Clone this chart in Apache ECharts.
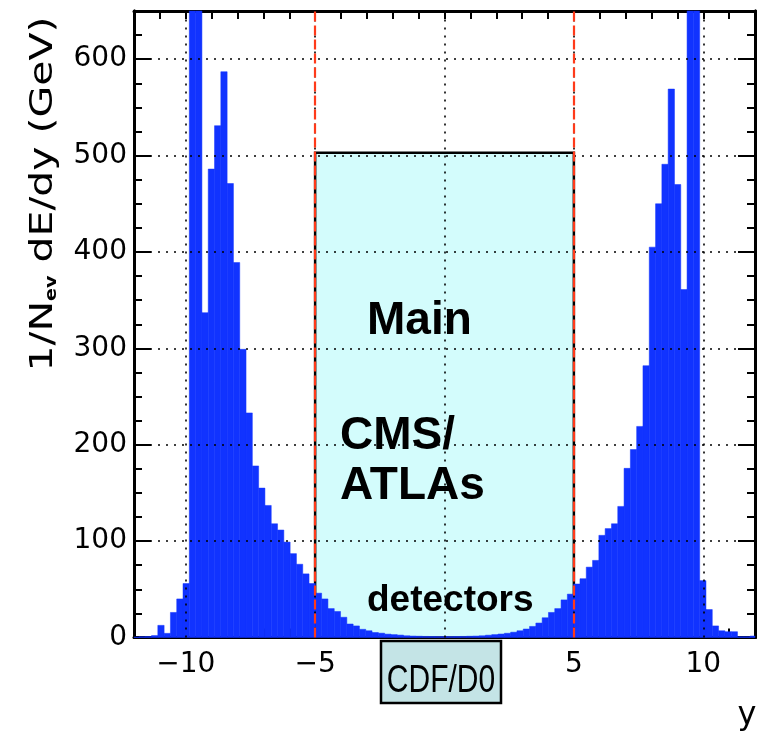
<!DOCTYPE html>
<html>
<head>
<meta charset="utf-8">
<script src="https://cdn.jsdelivr.net/npm/echarts@6/dist/echarts.min.js"></script>
<style>html,body{margin:0;padding:0;background:#fff;}#c{width:758px;height:734px;}</style>
</head>
<body>
<div id="c"></div>
<script>
// ---- data ----
const binWidth = 0.2435;           // histogram bin width in y
const firstBinIndex = -49;         // bins centred at k*binWidth, k = -49..49
const values = [
  0.5, 0.8, 1, 2, 12.6, 4.3, 26, 40, 56,           // k -49..-41
  760, 720,                                          // k -40,-39 (off scale)
  337, 486, 531, 587, 471, 389, 299, 233, 178, 155,  // k -38..-29
  137, 118, 111.5, 99, 87, 76, 66, 56,               // k -28..-21
  46, 40, 30, 27, 21, 14, 12, 8.5, 7, 5.2,           // k -20..-11
  4.5, 3.5, 3, 2.5, 1.8, 1.5, 1.3, 1.1, 1, 0.9,      // k -10..-1
  0.9,                                               // k 0
  0.9, 1, 1.1, 1.3, 1.5, 1.8, 2.4, 3, 3.6, 4.4,      // k 1..10
  5.5, 7, 8.8, 11.5, 15, 20.5, 26, 30, 39, 45,       // k 11..20
  55.5, 61, 73, 80, 106, 113, 118, 136,              // k 21..28
  175.5, 195, 219, 282, 405, 450, 491, 569, 470, 361,// k 29..38
  740, 760,                                          // k 39,40 (off scale)
  59, 29, 12, 7, 6, 6, 0.8, 0.8, 1.5                 // k 41..49
];
const boxRange = [-5, 5];      // main detectors acceptance
const boxHeight = 503;
const gridXValues = [-10, -5, 0, 5, 10];
const gridYValues = [100, 200, 300, 400, 500, 600];
const redLineX = [-5, 5];
const xLabelValues = [-10, -5, 0, 5, 10];

// ---- build ----
const binData = values.map((v, i) => {
  const c = (firstBinIndex + i) * binWidth;
  return [c - binWidth / 2, c + binWidth / 2, v];
});

function rectItem(params, api, fill, stroke, lw) {
  const p0 = api.coord([api.value(0), api.value(2)]);
  const p1 = api.coord([api.value(1), 0]);
  const cs = params.coordSys;
  const r = echarts.graphic.clipRectByRect(
    {x: p0[0], y: p0[1], width: p1[0] - p0[0], height: p1[1] - p0[1]},
    {x: cs.x, y: cs.y, width: cs.width, height: cs.height});
  if (!r) return null;
  return {type: 'rect', shape: r, style: {fill: fill, stroke: stroke, lineWidth: lw}};
}

const fmt = v => (v < 0 ? '\u2212' + Math.abs(v) : String(v));
const axisCommon = {
  type: 'value', min: -12, max: 12, interval: 1,
  axisLine: {onZero: false, lineStyle: {color: '#000', width: 3}},
  splitLine: {show: false}
};
const yCommon = {
  type: 'value', min: 0, max: 650,
  axisLine: {onZero: false, lineStyle: {color: '#000', width: 3}},
  splitLine: {show: false}
};

const chart = echarts.init(document.getElementById('c'), null, {renderer: 'canvas'});
chart.setOption({
  animation: false,
  backgroundColor: '#fff',
  grid: {left: 134, right: 1, top: 11, bottom: 96.5, containLabel: false},
  xAxis: [
    Object.assign({}, axisCommon, {
      position: 'bottom',
      axisTick: {inside: true, length: 9, lineStyle: {color: '#000', width: 2}},
      axisLabel: {
        formatter: v => (xLabelValues.indexOf(v) >= 0 ? fmt(v) : ''),
        color: '#000', fontFamily: 'DejaVu Sans', fontSize: 28, margin: 13,
        showMinLabel: true, showMaxLabel: true
      }
    }),
    Object.assign({}, axisCommon, {
      position: 'top',
      axisTick: {inside: true, length: 8, lineStyle: {color: '#000', width: 2}},
      axisLabel: {show: false}
    })
  ],
  yAxis: [
    Object.assign({}, yCommon, {
      position: 'left', interval: 100,
      axisTick: {inside: true, length: 17, lineStyle: {color: '#000', width: 2}},
      axisLabel: {formatter: v => (v <= 600 ? String(v) : ''), color: '#000',
        fontFamily: 'DejaVu Sans', fontSize: 28, margin: 7}
    }),
    Object.assign({}, yCommon, {
      position: 'left', interval: 25,
      axisTick: {inside: true, length: 8, lineStyle: {color: '#000', width: 2}},
      axisLabel: {show: false}
    }),
    Object.assign({}, yCommon, {
      position: 'right', interval: 100,
      axisTick: {inside: true, length: 17, lineStyle: {color: '#000', width: 2}},
      axisLabel: {show: false}
    }),
    Object.assign({}, yCommon, {
      position: 'right', interval: 25,
      axisTick: {inside: true, length: 8, lineStyle: {color: '#000', width: 2}},
      axisLabel: {show: false}
    })
  ],
  series: [
    {
      type: 'custom', name: 'box', z: 1, silent: true,
      renderItem: (params, api) => rectItem(params, api, '#d3fcfc', '#000', 2.5),
      data: [[boxRange[0], boxRange[1], boxHeight]]
    },
    {
      type: 'custom', name: 'dE/dy', z: 2, silent: true,
      renderItem: (params, api) => rectItem(params, api, '#1133ff', '#1133ff', 0.5),
      data: binData,
      markLine: {
        silent: true, symbol: ['none', 'none'], label: {show: false}, z: 5,
        lineStyle: {color: '#000', type: [2, 6], width: 1.6},
        data: gridXValues.map(x => ({xAxis: x})).concat(gridYValues.map(y => ({yAxis: y})))
      }
    },
    {
      type: 'custom', name: 'lines', z: 3, silent: true,
      renderItem: () => null, data: [],
      markLine: {
        silent: true, symbol: ['none', 'none'], label: {show: false}, z: 6,
        lineStyle: {color: '#ff3a1a', type: [10, 4], width: 2.2},
        data: redLineX.map(x => ({xAxis: x}))
      }
    }
  ],
  graphic: [
    {type: 'text', x: 40, y: 194, rotation: Math.PI / 2, scaleX: 1.28, z: 10,
      style: {
        text: '{a|1/N}{s|ev}{a| dE/dy (GeV)}',
        align: 'center', verticalAlign: 'middle',
        rich: {
          a: {fontFamily: 'DejaVu Sans', fontSize: 32, fill: '#000', lineHeight: 40, verticalAlign: 'bottom'},
          s: {fontFamily: 'DejaVu Sans', fontSize: 15, fontWeight: 'bold', fill: '#000', lineHeight: 40, verticalAlign: 'bottom'}
        }
      }},
    {type: 'text', x: 367, y: 321, z: 10, style: {text: 'Main', font: 'bold 46px "Liberation Sans"', fill: '#000', align: 'left', verticalAlign: 'middle'}},
    {type: 'text', x: 340, y: 436, z: 10, style: {text: 'CMS/', font: 'bold 46px "Liberation Sans"', fill: '#000', align: 'left', verticalAlign: 'middle'}},
    {type: 'text', x: 340, y: 486, z: 10, style: {text: 'ATLAs', font: 'bold 46px "Liberation Sans"', fill: '#000', align: 'left', verticalAlign: 'middle'}},
    {type: 'text', x: 367, y: 601, z: 10, style: {text: 'detectors', font: 'bold 37px "Liberation Sans"', fill: '#000', align: 'left', verticalAlign: 'middle'}},
    {type: 'rect', z: 10, shape: {x: 381, y: 641, width: 120, height: 62}, style: {fill: '#c4e4e6', stroke: '#000', lineWidth: 2.5}},
    {type: 'text', x: 441, y: 681, z: 11, scaleY: 1.3, style: {text: 'CDF/D0', font: '30px "Liberation Sans"', fill: '#000', align: 'center', verticalAlign: 'middle'}},
    {type: 'text', x: 747, y: 716, z: 10, style: {text: 'y', font: '32px "DejaVu Sans"', fill: '#000', align: 'center', verticalAlign: 'middle'}}
  ]
});
</script>
</body>
</html>
